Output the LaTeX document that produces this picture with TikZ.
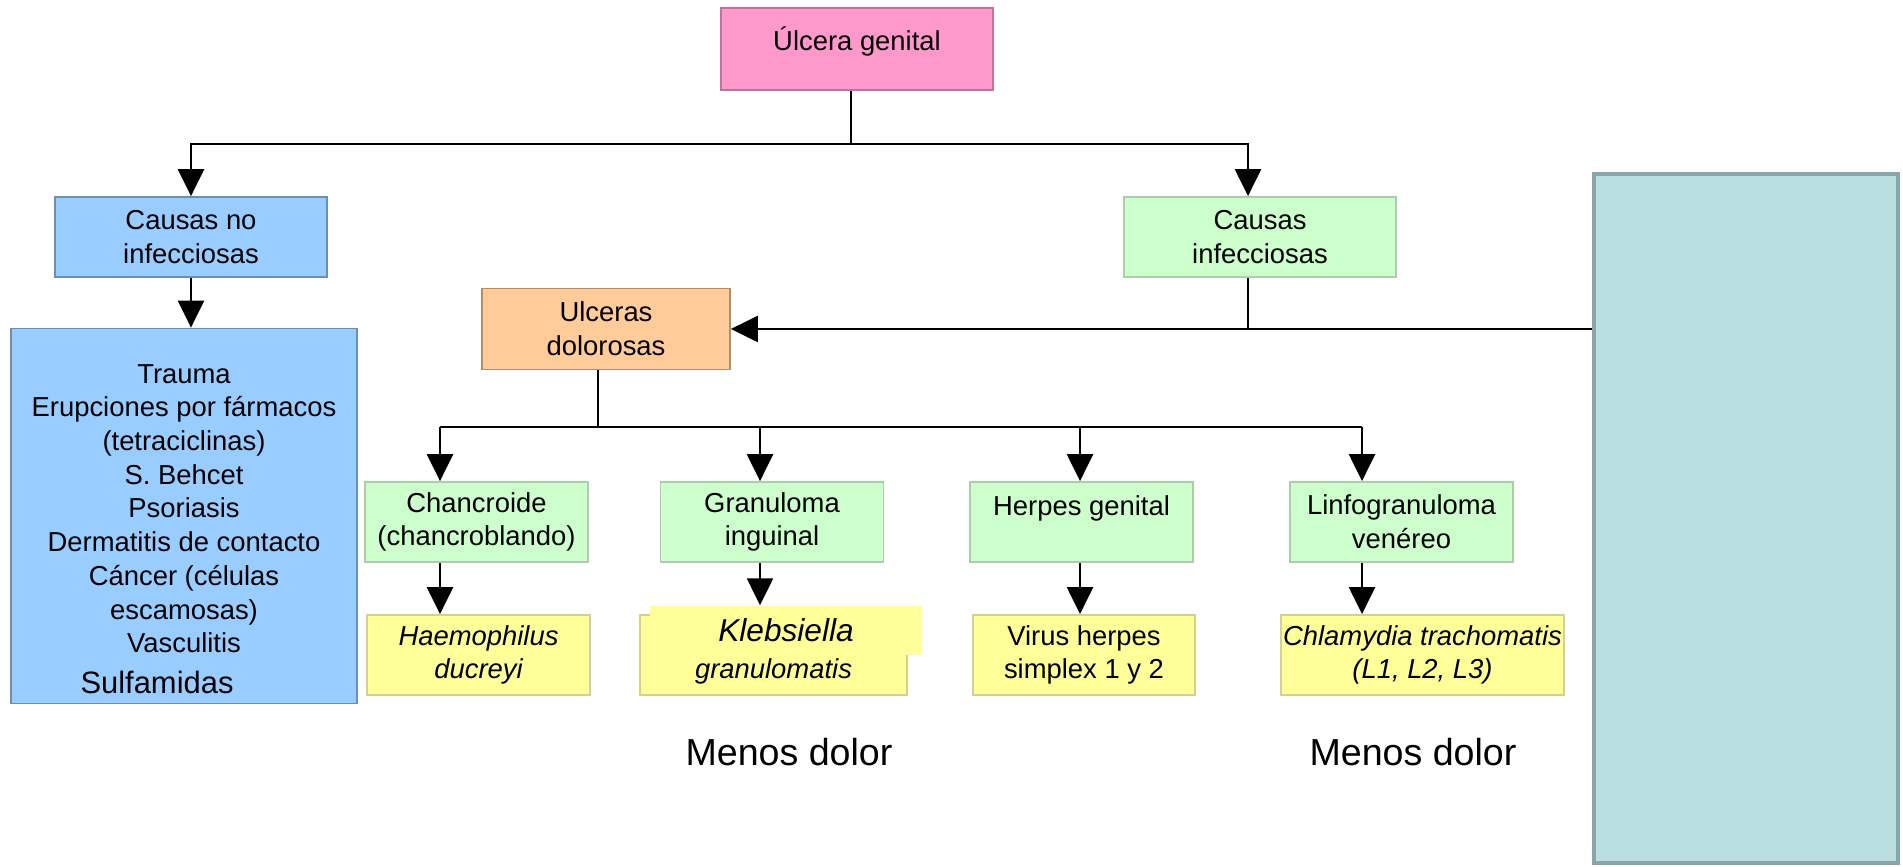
\documentclass[tikz,border=0pt]{standalone}
\usepackage{fontspec}
\setmainfont{Liberation Sans}
\usetikzlibrary{arrows.meta}

\definecolor{rosa}{HTML}{FF99CC}
\definecolor{azul}{HTML}{99CCFF}
\definecolor{verde}{HTML}{CCFFCC}
\definecolor{naranja}{HTML}{FFCC99}
\definecolor{amarillo}{HTML}{FFFF99}
\definecolor{turquesa}{HTML}{B9DFE1}
\definecolor{turquesaborde}{HTML}{89A5A7}

\begin{document}
\begin{tikzpicture}[
        caja/.style={rectangle, line width=0.5pt, align=center, inner sep=0pt,
            font=\fontsize{7.8}{9.6}\selectfont},
        cajaRosa/.style={caja, fill=rosa, draw=rosa!75!black, minimum width=27.2mm, minimum height=8.2mm},
        cajaAzul/.style={caja, fill=azul, draw=azul!70!black, minimum width=27.2mm, minimum height=8mm},
        cajaVerde/.style={caja, fill=verde, draw=verde!60!gray, minimum width=22.3mm, minimum height=8mm},
        cajaNaranja/.style={caja, fill=naranja, draw=naranja!70!black, minimum width=24.8mm, minimum height=8.1mm},
        cajaAmarilla/.style={caja, fill=amarillo, draw=amarillo!65!gray, minimum height=8mm},
        cursiva/.style={font=\fontsize{7.8}{9.6}\selectfont\itshape},
        linea/.style={black, line width=0.7pt},
        flecha/.style={linea, -{Triangle[width=2.6mm, length=2.7mm]}},
        nota/.style={font=\fontsize{10.7}{13}\selectfont}
    ]
        \useasboundingbox (0,0) rectangle (19.03,8.67);

        % Nivel superior
        \node[cajaRosa] (ulcera) at (8.57,8.18) {Úlcera genital\\[-1.4mm]\mbox{}};

        % Causas
        \node[cajaAzul] (noinf) at (1.91,6.30) {Causas no\\infecciosas};
        \node[cajaVerde, minimum width=27.2mm] (inf) at (12.60,6.30) {Causas\\infecciosas};

        % Lista de causas no infecciosas
        \node[cajaAzul, minimum width=34.6mm, minimum height=37.5mm] (lista) at (1.84,3.51)
            {\rule{0pt}{4.5mm}Trauma\\Erupciones por fármacos\\(tetraciclinas)\\S. Behcet\\Psoriasis\\
             Dermatitis de contacto\\Cáncer (células\\escamosas)\\Vasculitis\\[0.7mm]
             \hspace*{-5.4mm}{\fontsize{8.8}{10.5}\selectfont Sulfamidas}};

        % Panel de la derecha
        \node[rectangle, fill=turquesa, draw=turquesaborde, line width=1pt,
            minimum width=30.4mm, minimum height=68.9mm] (panel) at (17.46,3.485) {};

        % Ulceras dolorosas
        \node[cajaNaranja] (dolorosas) at (6.06,5.38) {Ulceras\\dolorosas};

        % Enfermedades
        \node[cajaVerde] (chancro) at (4.765,3.45) {Chancroide\\(chancroblando)};
        \node[cajaVerde] (granu) at (7.72,3.45) {Granuloma\\inguinal};
        \node[cajaVerde] (herpes) at (10.815,3.45) {Herpes genital\\\mbox{}};
        \node[cajaVerde] (linfo) at (14.015,3.45) {Linfogranuloma\\venéreo};

        % Agentes
        \node[cajaAmarilla, cursiva, minimum width=22.3mm] (haemo) at (4.785,2.12) {Haemophilus\\ducreyi};
        \node[cajaAmarilla, cursiva, minimum width=26.7mm] (klebs) at (7.735,2.12) {\vphantom{Haemophilus}\\granulomatis};
        \node[rectangle, fill=amarillo, inner sep=0pt, minimum width=27.2mm, minimum height=4.9mm,
            font=\fontsize{9}{11}\selectfont\itshape] (klebsiella) at (7.86,2.365) {Klebsiella};
        \node[cajaAmarilla, minimum width=22.2mm] (virus) at (10.84,2.12) {Virus herpes\\simplex 1 y 2};
        \node[cajaAmarilla, cursiva, minimum width=28.3mm] (chlamy) at (14.225,2.12) {Chlamydia trachomatis\\(L1, L2, L3)};

        % Notas
        \node[nota] (menos1) at (7.89,1.15) {Menos dolor};
        \node[nota] (menos2) at (14.13,1.15) {Menos dolor};

        % Conexiones superiores
        \draw[flecha] ([xshift=-0.6mm]ulcera.south) -- ++(0,-0.53) -| (noinf.north);
        \draw[flecha] ([xshift=-0.6mm]ulcera.south) -- ++(0,-0.53) -| ([xshift=-1.2mm]inf.north);
        \draw[flecha] (noinf.south) -- (noinf.south |- lista.north);

        % Hacia ulceras dolorosas
        \draw[flecha] (panel.west |- dolorosas.east) -- (dolorosas.east);
        \draw[linea] ([xshift=-1.2mm]inf.south) -- ([xshift=-1.2mm]inf.south |- dolorosas.east);

        % Reparto a las enfermedades
        \coordinate (r1) at (4.40,4.40);
        \coordinate (r2) at (7.60,4.40);
        \coordinate (r3) at (10.80,4.40);
        \coordinate (r4) at (13.62,4.40);
        \draw[linea] ([xshift=-0.8mm]dolorosas.south) -- ([xshift=-0.8mm]dolorosas.south |- r1);
        \draw[linea] (r1) -- (r4);
        \draw[flecha] (r1) -- (r1 |- chancro.north);
        \draw[flecha] (r2) -- (r2 |- granu.north);
        \draw[flecha] (r3) -- (r3 |- herpes.north);
        \draw[flecha] (r4) -- (r4 |- linfo.north);

        % Enfermedad -> agente
        \draw[flecha] (r1 |- chancro.south) -- (r1 |- haemo.north);
        \draw[flecha] (r2 |- granu.south) -- (r2 |- klebsiella.north);
        \draw[flecha] (r3 |- herpes.south) -- (r3 |- virus.north);
        \draw[flecha] (r4 |- linfo.south) -- (r4 |- chlamy.north);
    \end{tikzpicture}
\end{document}
